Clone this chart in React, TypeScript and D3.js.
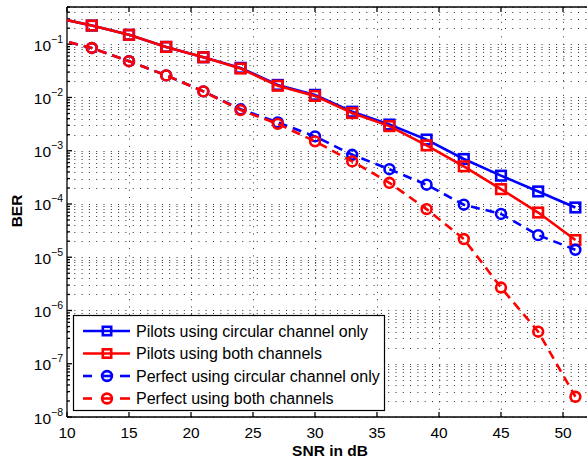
import React, { useEffect, useRef } from 'react';
import * as d3 from 'd3';

const SNR = [9, 12, 15, 18, 21, 24, 27, 30, 33, 36, 39, 42, 45, 48, 51];

const pilotsCircular = [0.32, 0.224, 0.15, 0.089, 0.057, 0.036, 0.0172, 0.0112, 0.0054, 0.0031, 0.00162, 7.0e-4, 3.4e-4, 1.72e-4, 8.6e-5];
const pilotsBoth = [0.32, 0.224, 0.15, 0.089, 0.057, 0.035, 0.0166, 0.0107, 0.0051, 0.0029, 0.00126, 5.1e-4, 1.9e-4, 6.9e-5, 2.1e-5];
const perfectCircular = [0.128, 0.085, 0.048, 0.026, 0.013, 0.006, 0.0034, 0.00186, 8.4e-4, 4.5e-4, 2.3e-4, 9.7e-5, 6.5e-5, 2.6e-5, 1.38e-5];
const perfectBoth = [0.128, 0.085, 0.048, 0.026, 0.013, 0.0058, 0.0032, 0.0015, 6.3e-4, 2.5e-4, 8.0e-5, 2.2e-5, 2.7e-6, 4.0e-7, 2.4e-8];

const xTicks = [10, 15, 20, 25, 30, 35, 40, 45, 50];
const yExponents = [-8, -7, -6, -5, -4, -3, -2, -1];

const SERIES = [
  { name: 'Pilots using circular channel only', values: pilotsCircular, color: '#0000ff', dashed: false, marker: 'square' },
  { name: 'Pilots using both channels', values: pilotsBoth, color: '#ff0000', dashed: false, marker: 'square' },
  { name: 'Perfect using circular channel only', values: perfectCircular, color: '#0000ff', dashed: true, marker: 'circle' },
  { name: 'Perfect using both channels', values: perfectBoth, color: '#ff0000', dashed: true, marker: 'circle' },
];

const FONT = '"Liberation Sans", Arial, Helvetica, sans-serif';
const LW = 2.6;

const BerChart = () => {
  const ref = useRef<SVGSVGElement>(null);

  useEffect(() => {
    const width = 587,
      height = 460,
      margin = { top: 7, left: 67, bottom: 43 };
    const plotRight = 587.8;

    const svg = d3.select(ref.current);
    svg.selectAll('*').remove();

    const x = d3.scaleLinear().domain([10, 52]).range([margin.left, plotRight]);
    const y = d3
      .scaleLog()
      .domain([1e-8, 0.5])
      .range([height - margin.bottom, margin.top]);

    const top = margin.top;
    const bottom = height - margin.bottom;

    svg
      .append('defs')
      .append('clipPath')
      .attr('id', 'plotclip')
      .append('rect')
      .attr('x', margin.left)
      .attr('y', top)
      .attr('width', plotRight - margin.left)
      .attr('height', bottom - top);

    svg.append('rect').attr('x', 0).attr('y', 0).attr('width', width).attr('height', height).attr('fill', '#fff');

    // grid
    const grid = svg.append('g').attr('stroke', '#333').attr('stroke-width', 1).attr('stroke-dasharray', '1,6.3');
    const minorY: number[] = [];
    for (let e = -8; e <= -1; e++) {
      for (let m = 1; m <= 9; m++) {
        const v = m * Math.pow(10, e);
        if (v <= 0.5) minorY.push(v);
      }
    }
    grid
      .selectAll('.hgrid')
      .data(minorY)
      .enter()
      .append('line')
      .attr('x1', margin.left)
      .attr('x2', plotRight)
      .attr('y1', d => Math.round(y(d)) + 0.5)
      .attr('y2', d => Math.round(y(d)) + 0.5);
    grid
      .selectAll('.vgrid')
      .data(xTicks.slice(1))
      .enter()
      .append('line')
      .attr('x1', d => Math.round(x(d)) + 0.5)
      .attr('x2', d => Math.round(x(d)) + 0.5)
      .attr('y1', bottom)
      .attr('y2', top);

    // axes frame
    const axes = svg.append('g').attr('stroke', '#000').attr('stroke-width', 1.3);
    axes.append('line').attr('x1', margin.left).attr('x2', plotRight).attr('y1', bottom).attr('y2', bottom);
    axes.append('line').attr('x1', margin.left).attr('x2', plotRight).attr('y1', top).attr('y2', top);
    axes.append('line').attr('x1', margin.left).attr('x2', margin.left).attr('y1', top).attr('y2', bottom);

    // x ticks (bottom and top, inward)
    xTicks.forEach(t => {
      axes.append('line').attr('x1', x(t)).attr('x2', x(t)).attr('y1', bottom).attr('y2', bottom - 5);
      axes.append('line').attr('x1', x(t)).attr('x2', x(t)).attr('y1', top).attr('y2', top + 5);
    });
    // y ticks
    minorY.forEach(v => {
      const major = Math.abs(Math.log10(v) - Math.round(Math.log10(v))) < 1e-9;
      axes
        .append('line')
        .attr('x1', margin.left)
        .attr('x2', margin.left + (major ? 5 : 3))
        .attr('y1', y(v))
        .attr('y2', y(v));
    });

    // tick labels
    svg
      .append('g')
      .selectAll('text')
      .data(xTicks)
      .enter()
      .append('text')
      .attr('x', d => x(d))
      .attr('y', bottom + 21)
      .attr('text-anchor', 'middle')
      .attr('font-family', FONT)
      .attr('font-size', 15.5)
      .text(d => d);

    const yLab = svg
      .append('g')
      .selectAll('text')
      .data(yExponents)
      .enter()
      .append('text')
      .attr('x', 63)
      .attr('y', d => y(Math.pow(10, d)) + 6.5)
      .attr('text-anchor', 'end')
      .attr('font-family', FONT)
      .attr('font-size', 15.5);
    yLab.append('tspan').text('10');
    yLab
      .append('tspan')
      .attr('dy', -8)
      .attr('font-size', 10.5)
      .text(d => '\u2212' + Math.abs(d));

    // axis titles
    svg
      .append('text')
      .attr('x', 330)
      .attr('y', 456)
      .attr('text-anchor', 'middle')
      .attr('font-family', FONT)
      .attr('font-weight', 'bold')
      .attr('font-size', 15.5)
      .text('SNR in dB');
    svg
      .append('text')
      .attr('transform', 'translate(22,211) rotate(-90)')
      .attr('text-anchor', 'middle')
      .attr('font-family', FONT)
      .attr('font-weight', 'bold')
      .attr('font-size', 15.5)
      .text('BER');

    // series
    const line = d3
      .line<number>()
      .x((d, i) => x(SNR[i]))
      .y(d => y(d));

    const plot = svg.append('g').attr('clip-path', 'url(#plotclip)');
    SERIES.forEach(s => {
      plot
        .append('path')
        .attr('d', line(s.values))
        .attr('fill', 'none')
        .attr('stroke', s.color)
        .attr('stroke-width', LW)
        .attr('stroke-dasharray', s.dashed ? '9,6' : null);
      const g = plot.append('g').attr('stroke', s.color).attr('fill', 'none').attr('stroke-width', LW);
      s.values.forEach((v, i) => {
        if (s.marker === 'square') {
          g.append('rect')
            .attr('x', x(SNR[i]) - 4.8)
            .attr('y', y(v) - 4.8)
            .attr('width', 9.6)
            .attr('height', 9.6);
        } else {
          g.append('circle').attr('cx', x(SNR[i])).attr('cy', y(v)).attr('r', 4.9);
        }
      });
    });

    // legend
    const lg = svg.append('g');
    lg.append('rect')
      .attr('x', 73.5)
      .attr('y', 315.5)
      .attr('width', 311)
      .attr('height', 95)
      .attr('fill', '#fff')
      .attr('stroke', '#000')
      .attr('stroke-width', 1.2);
    SERIES.forEach((s, i) => {
      const ly = 331 + i * 22.5;
      if (s.dashed) {
        lg.append('line').attr('x1', 83).attr('x2', 92).attr('y1', ly).attr('y2', ly).attr('stroke', s.color).attr('stroke-width', LW);
        lg.append('line').attr('x1', 120).attr('x2', 130).attr('y1', ly).attr('y2', ly).attr('stroke', s.color).attr('stroke-width', LW);
        lg.append('line').attr('x1', 101).attr('x2', 113).attr('y1', ly).attr('y2', ly).attr('stroke', s.color).attr('stroke-width', LW);
        lg.append('circle').attr('cx', 107).attr('cy', ly).attr('r', 4.9).attr('fill', 'none').attr('stroke', s.color).attr('stroke-width', LW);
      } else {
        lg.append('line').attr('x1', 83).attr('x2', 130).attr('y1', ly).attr('y2', ly).attr('stroke', s.color).attr('stroke-width', LW);
        lg.append('rect')
          .attr('x', 107 - 4.2)
          .attr('y', ly - 4.2)
          .attr('width', 8.4)
          .attr('height', 8.4)
          .attr('fill', 'none')
          .attr('stroke', s.color)
          .attr('stroke-width', LW);
      }
      lg.append('text')
        .attr('x', 136)
        .attr('y', ly + 5.5)
        .attr('font-family', FONT)
        .attr('font-size', 16)
        .text(s.name);
    });
  }, []);

  return <svg ref={ref} width={587} height={460} style={{ display: 'block' }} />;
};

export default function App() {
  return (
    <div style={{ position: 'fixed', left: 0, top: 0, width: 587, height: 460 }}>
      <BerChart />
    </div>
  );
}
